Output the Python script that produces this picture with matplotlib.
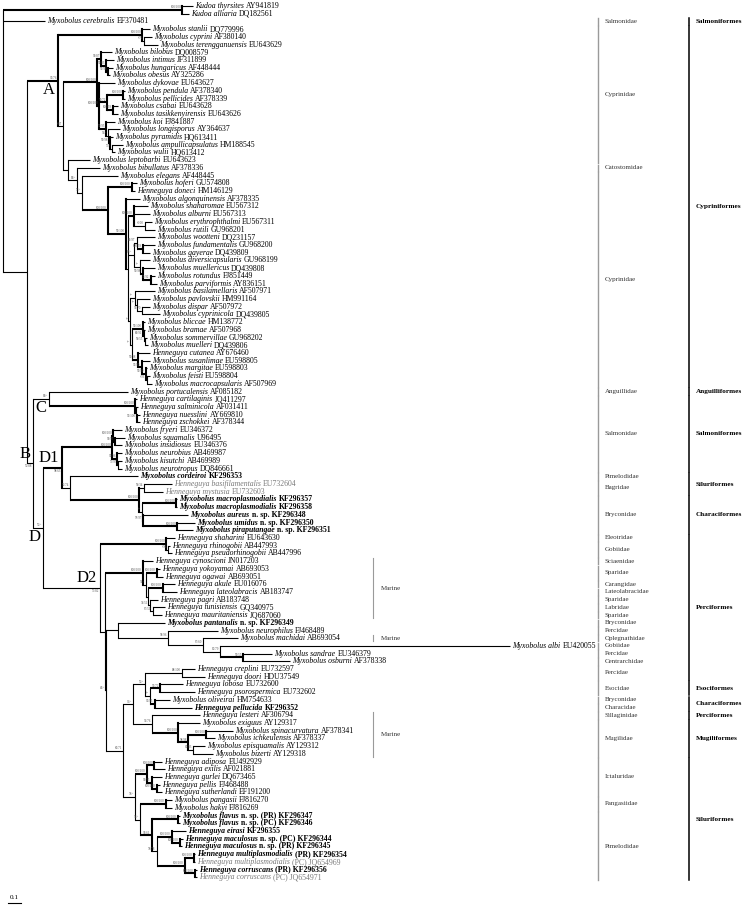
import matplotlib
matplotlib.use("Agg")
import matplotlib.pyplot as plt

SERIF = "Liberation Serif"
plt.rcParams["font.family"] = SERIF

# leaf labels, top to bottom: italic part, upright part, style (b = bold, g = grey)
species = [
    "Kudoa thyrsites", "Kudoa alliaria", "Myxobolus cerebralis", "Myxobolus stanlii",
    "Myxobolus cyprini", "Myxobolus terengganuensis", "Myxobolus bilobus", "Myxobolus intimus",
    "Myxobolus hungaricus", "Myxobolus obesus", "Myxobolus dykovae", "Myxobolus pendula",
    "Myxobolus pellicides", "Myxobolus csabai", "Myxobolus tasikkenyirensis", "Myxobolus koi",
    "Myxobolus longisporus", "Myxobolus pyramidis", "Myxobolus ampullicapsulatus", "Myxobolus wulii",
    "Myxobolus leptobarbi", "Myxobolus bibullatus", "Myxobolus elegans", "Myxobolus hoferi",
    "Henneguya doneci", "Myxobolus algonquinensis", "Myxobolus shaharomae", "Myxobolus alburni",
    "Myxobolus erythrophthalmi", "Myxobolus rutili", "Myxobolus wootteni", "Myxobolus fundamentalis",
    "Myxobolus gayerae", "Myxobolus diversicapsularis", "Myxobolus muellericus", "Myxobolus rotundus",
    "Myxobolus parviformis", "Myxobolus basilamellaris", "Myxobolus pavlovskii", "Myxobolus dispar",
    "Myxobolus cyprinicola", "Myxobolus bliccae", "Myxobolus bramae", "Myxobolus sommervillae",
    "Myxobolus muelleri", "Henneguya cutanea", "Myxobolus susanlimae", "Myxobolus margitae",
    "Myxobolus feisti", "Myxobolus macrocapsularis", "Myxobolus portucalensis", "Henneguya cartilaginis",
    "Henneguya salminicola", "Henneguya nuesslini", "Henneguya zschokkei", "Myxobolus fryeri",
    "Myxobolus squamalis", "Myxobolus insidiosus", "Myxobolus neurobius", "Myxobolus kisutchi",
    "Myxobolus neurotropus", "Myxobolus cordeiroi", "Henneguya basifilamentalis", "Henneguya mystusia",
    "Myxobolus macroplasmodialis", "Myxobolus macroplasmodialis", "Myxobolus aureus", "Myxobolus umidus",
    "Myxobolus piraputangae", "Henneguya shaharini", "Henneguya rhinogobii", "Henneguya pseudorhinogobii",
    "Henneguya cynoscioni", "Henneguya yokoyamai", "Henneguya ogawai", "Henneguya akule",
    "Henneguya lateolabracis", "Henneguya pagri", "Henneguya tunisiensis", "Henneguya mauritaniensis",
    "Myxobolus pantanalis", "Myxobolus neurophilus", "Myxobolus machidai", "Myxobolus albi",
    "Myxobolus sandrae", "Myxobolus osburni", "Henneguya creplini", "Henneguya doori",
    "Henneguya lobosa", "Henneguya psorospermica", "Myxobolus oliveirai", "Henneguya pellucida",
    "Henneguya lesteri", "Myxobolus exiguus", "Myxobolus spinacurvatura", "Myxobolus ichkeulensis",
    "Myxobolus episquamalis", "Myxobolus bizerti", "Henneguya adiposa", "Henneguya exilis",
    "Henneguya gurlei", "Henneguya pellis", "Henneguya sutherlandi", "Myxobolus pangasii",
    "Myxobolus hakyi", "Myxobolus flavus", "Myxobolus flavus", "Henneguya eirasi",
    "Henneguya maculosus", "Henneguya maculosus", "Henneguya multiplasmodialis", "Henneguya multiplasmodialis",
    "Henneguya corruscans", "Henneguya corruscans",
]
suffix = [
    "AY941819", "DQ182561", "EF370481", "DQ779996", "AF380140", "EU643629", "DQ008579", "JF311899",
    "AF448444", "AY325286", "EU643627", "AF378340", "AF378339", "EU643628", "EU643626", "FJ841887",
    "AY364637", "HQ613411", "HM188545", "HQ613412", "EU643623", "AF378336", "AF448445", "GU574808",
    "HM146129", "AF378335", "EU567312", "EU567313", "EU567311", "GU968201", "DQ231157", "GU968200",
    "DQ439809", "GU968199", "DQ439808", "FJ851449", "AY836151", "AF507971", "HM991164", "AF507972",
    "DQ439805", "HM138772", "AF507968", "GU968202", "DQ439806", "AY676460", "EU598805", "EU598803",
    "EU598804", "AF507969", "AF085182", "JQ411297", "AF031411", "AY669810", "AF378344", "EU346372",
    "U96495", "EU346376", "AB469987", "AB469989", "DQ846661", "KF296353", "EU732604", "EU732603",
    "KF296357", "KF296358", "n. sp. KF296348", "n. sp. KF296350", "n. sp. KF296351", "EU643630",
    "AB447993", "AB447996", "JN017203", "AB693053", "AB693051", "EU016076", "AB183747", "AB183748",
    "GQ340975", "JQ687060", "n. sp. KF296349", "FJ468489", "AB693054", "EU420055", "EU346379",
    "AF378338", "EU732597", "HDU37549", "EU732600", "EU732602", "HM754633", "KF296352", "AF306794",
    "AY129317", "AF378341", "AF378337", "AY129312", "AY129318", "EU492929", "AF021881", "DQ673465",
    "FJ468488", "EF191200", "FJ816270", "FJ816269", "n. sp. (PR) KF296347", "n. sp. (PC) KF296346",
    "KF296355", "n. sp. (PC) KF296344", "n. sp. (PR) KF296345", "(PR) KF296354", "(PC) JQ654969",
    "(PR) KF296356", "(PC) JQ654971",
]
style = [""] * 61 + ["b", "g", "g", "b", "b", "b", "b", "b"] + [""] * 11 + ["b"] + [""] * 10 + ["b"] \
    + [""] * 13 + ["b", "b", "b", "b", "b", "b", "g", "b", "g"]

# tree: leaves are the indices above, node labels are support (ML/Bayes), branch lengths in subs/site
TREE = """
(
 (0:0.085,1:0.054)100/100:1.377,
 2:0.323,
 (
  (
   (3:0.062,(4:0.062,5:0.108)-/76:0.015)100/100:0.646,
   (
    (
     (6:0.085,(7:0.062,(8:0.038,9:0.015)99/98:0.015)99/83:0.038)90/87:0.031,
     (10:0.123,
      ((11:0.015,12:0.015)100/100:0.123,(13:0.038,14:0.038)100/99:0.046)99/72:0.062,
      (15:0.069,(16:0.092,(17:0.023,(18:0.085,19:0.023)75/-:0.015)99/98:0.015)56/-:0.015)99/95:0.054
     )100/100:0.015
    )100/100:0.262,
    (20:0.169,
     (21:0.177,
      (22:0.277,
       ((23:0.038,24:0.023)100/100:0.185,
        (25:0.108,
         (
          (26:0.108,27:0.123,(28:0.054,29:0.077)-/100:0.085)100/100:0.046,
          ((30:0.138,(31:0.092,32:0.054)100/99:0.046)63/97:0.023,
           (33:0.077,(34:0.092,(35:0.031,36:0.046)92/92:0.062)99/98:0.023)-/-:0.046)87/-:0.046,
          ((37:0.154,(38:0.1,(39:0.054,40:0.131)53/70:0.046)-/-:0.015)-/-:0.038,
           ((41:0.015,(42:0.008,(43:0.015,44:0.023)59/55:0.008)80/91:0.008)99/100:0.085,
            (45:0.092,(46:0.062,(47:0.008,(48:0.023,49:0.038)-/93:0.008)99/99:0.031)92/90:0.031)99/98:0.046)-/-:0.015)-/-:0.015
         ):0.015
        )99/100:0.138
       )100/100:0.2
      )75/-:0.038
     )85/-:0.069
    ):0.038
   )-/87:0.038
  )96/76|A:0.238,
  (
   (50:0.608,(51:0.015,(52:0.015,(53:0.023,54:0.023)93/100:0.008):0.008)100/100:0.662)69/-|C:0.123,
   (
    (
     ((55:0.069,(56:0.077,57:0.054)90/97:0.015)100/100:0.008,(58:0.038,(59:0.031,60:0.031)75/97:0.008)96/96:0.038)100/100:0.385,
     (61:0.523,
      ((62:0.215,63:0.146)59/34:0.038,
       ((64:0.008,65:0.008)100/100:0.262,(66:0.346,(67:0.138,68:0.123)100/100:0.262)97/97:0.008)-/-:0.023
      )100/100:0.531
     )55/74:0.062
    )98/63|D1:0.146,
    (
     (69:0.069,(70:0.015,71:0.031)-/96:0.015)100/100:0.508,
     (
      (72:0.077,((73:0.023,74:0.046)100/100:0.085,((75:0.092,76:0.108)100/100:0.115,(77:0.062,(78:0.092,79:0.069)67/59:0.023)74/51:0.015):0.015)51/-:0.023)100/100:0.292,
      (
       (80:0.362,(81:0.385,(82:0.269,(83:2.231,(84:0.223,85:0.362)99/55:0.177)65/79:0.131)67/60:0.269)58/96:0.385):0.092,
       (
        (
         ((86:0.1,87:0.177)88/100:0.285,((88:0.177,89:0.269)93/72:0.077,(90:0.115,91:0.285)96/95:0.038)-/-:0.038)55/-:0.092,
         (92:0.369,(93:0.169,((94:0.208,95:0.069)100/100:0.138,(96:0.092,97:0.154)81/93:0.038)98/98:0.077)100/100:0.2)52/76:0.146
        )76/-:0.077,
        (
         ((98:0.062,99:0.085)100/100:0.054,(100:0.077,(101:0.023,102:0.038)100/100:0.038)90/93:0.038)100/100:0.092,
         ((103:0.046,104:0.046)100/100:0.2,
          ((105:0.015,106:0.015)100/100:0.2,
           ((107:0.108,(108:0.023,109:0.015)100/100:0.062)100/100:0.115,((110:0.008,111:0.008)100/100:0.069,(112:0.015,113:0.015)100/100:0.077)100/100:0.215)78/78:0.038
          )94/61:0.092
         )51/-:0.038
        )78/-:0.092
       )86/71:0.131
      )64/-:0.008
     ):0.038
    )75/82|D2:0.438
   )55/-|D:0.077
  )55/88|B:0.046
 ):0.185
);
"""

# host family / order columns, as counts of consecutive leaves starting at leaf 2
family_names = ["Salmonidae", "Cyprinidae", "Catostomidae", "Cyprinidae", "Anguillidae", "Salmonidae",
                "Pimelodidae", "Bagridae", "Bryconidae", "Eleotridae", "Gobiidae", "Sciaenidae", "Sparidae",
                "Carangidae", "Lateolabracidae", "Sparidae", "Labridae", "Sparidae", "Bryconidae", "Percidae",
                "Oplegnathidae", "Gobiidae", "Percidae", "Centrarchidae", "Percidae", "Esocidae", "Bryconidae",
                "Characidae", "Sillaginidae", "Mugilidae", "Ictaluridae", "Pangasiidae", "Pimelodidae"]
family_sizes = [1, 18, 1, 28, 1, 10, 1, 2, 5, 1, 2, 1, 2, 1, 1, 1, 1, 1, 1, 1, 1, 1, 1, 1, 2, 2, 1, 1, 1, 5, 5, 2, 9]
order_names = ["Salmoniformes", "Cypriniformes", "Anguilliformes", "Salmoniformes", "Siluriformes",
               "Characiformes", "Perciformes", "Esociformes", "Characiformes", "Perciformes", "Mugiliformes",
               "Siluriformes"]
order_sizes = [1, 47, 1, 10, 3, 5, 19, 2, 2, 1, 5, 16]
marine_first = [72, 82, 92]
marine_last = [79, 82, 97]
letters_above = ["B", "D1", "D2"]


def parse(s):
    s = "".join(s.split())
    pos = 0

    def read():
        nonlocal pos
        node = {"kids": [], "label": "", "len": 0.0}
        if s[pos] == "(":
            pos += 1
            node["kids"].append(read())
            while s[pos] == ",":
                pos += 1
                node["kids"].append(read())
            pos += 1
        start = pos
        while pos < len(s) and s[pos] not in ":,);":
            pos += 1
        node["label"] = s[start:pos]
        if pos < len(s) and s[pos] == ":":
            pos += 1
            start = pos
            while pos < len(s) and s[pos] not in ",);":
                pos += 1
            node["len"] = float(s[start:pos])
        return node

    return read()


leaves = []


def layout(node, x0):
    node["x"] = x0 + node["len"]
    if node["kids"]:
        for k in node["kids"]:
            layout(k, node["x"])
        node["y"] = (node["kids"][0]["y"] + node["kids"][-1]["y"]) / 2
    else:
        node["y"] = len(leaves)
        leaves.append(node)


root = parse(TREE)
layout(root, 0.0)

fig = plt.figure(figsize=(7.46, 9.08), dpi=100)
ax = fig.add_axes([0, 0, 1, 1])
ax.axis("off")
# 0.1 subs/site = 13 px, leaves 7.71 px apart
ax.set_xlim(-3 / 130, 743 / 130)
ax.set_ylim(902 / 7.71, -6 / 7.71)


def support(node):
    lab = node["label"].split("|")[0]
    try:
        return float(lab.split("/")[0])
    except ValueError:
        return 0.0


def draw(node):
    if not node["kids"]:
        return
    x = node["x"]
    lw = 1.5 if support(node) >= 90 else 0.8
    ax.plot([x, x], [node["kids"][0]["y"], node["kids"][-1]["y"]], color="black", lw=lw,
            solid_capstyle="projecting")
    for k in node["kids"]:
        klw = 1.5 if (k["kids"] and support(k) >= 90) else 0.8
        ax.plot([x, k["x"]], [k["y"], k["y"]], color="black", lw=klw, solid_capstyle="butt")
        draw(k)
    parts = node["label"].split("|")
    # a clade letter takes one side of the branch, the support goes on the other side
    letter_above = len(parts) > 1 and parts[1] in letters_above
    if parts[0]:
        ax.annotate(parts[0], (x, node["y"]), xytext=(-0.8, -0.8 if letter_above else 0.5),
                    textcoords="offset points", ha="right", va="top" if letter_above else "bottom",
                    fontsize=2.3, color="#555555")
    if len(parts) > 1:
        ax.annotate(parts[1], (x, node["y"]), xytext=(-2, 1 if letter_above else -1),
                    textcoords="offset points", ha="right", va="bottom" if letter_above else "top",
                    fontsize=12, color="black")


draw(root)

LAB = 5.6
for i, leaf in enumerate(leaves):
    fw = "bold" if style[i] == "b" else "normal"
    col = "#7a7a7a" if style[i] == "g" else "black"
    t = ax.annotate(species[i], (leaf["x"], leaf["y"]), xytext=(1.6, 0), textcoords="offset points",
                    ha="left", va="center", fontsize=LAB, style="italic", weight=fw, color=col)
    ax.annotate(suffix[i], xy=(1, 0), xycoords=t, xytext=(1.5, 0), textcoords="offset points",
                ha="left", va="bottom", fontsize=LAB, weight=fw, color=col)

trans = ax.get_yaxis_transform()
FAM_X, ORD_X, MAR_X = 598 / 746, 689 / 746, 373 / 746

start = 2
for name, n in zip(family_names, family_sizes):
    a, b = start, start + n - 1
    ax.plot([FAM_X, FAM_X], [a - 0.42, b + 0.42], transform=trans, color="#9a9a9a", lw=1.0)
    ax.text(FAM_X + 0.009, (a + b) / 2, name, transform=trans, ha="left", va="center",
            fontsize=5.0, color="#333333")
    start += n

start = 2
for name, n in zip(order_names, order_sizes):
    a, b = start, start + n - 1
    ax.plot([ORD_X, ORD_X], [a - 0.42, b + 0.42], transform=trans, color="black", lw=1.1)
    ax.text(ORD_X + 0.009, (a + b) / 2, name, transform=trans, ha="left", va="center",
            fontsize=5.2, weight="bold", color="black")
    start += n

for a, b in zip(marine_first, marine_last):
    ax.plot([MAR_X, MAR_X], [a - 0.4, b + 0.4], transform=trans, color="#9a9a9a", lw=0.8)
    ax.text(MAR_X + 0.01, (a + b) / 2, "Marine", transform=trans, ha="left", va="center",
            fontsize=5.0, color="#333333")

# scale bar
ax.plot([0.04, 0.14], [116.4, 116.4], color="black", lw=0.8)
ax.text(0.09, 115.9, "0.1", ha="center", va="bottom", fontsize=5.2)

fig.savefig("out.png", dpi=100)
